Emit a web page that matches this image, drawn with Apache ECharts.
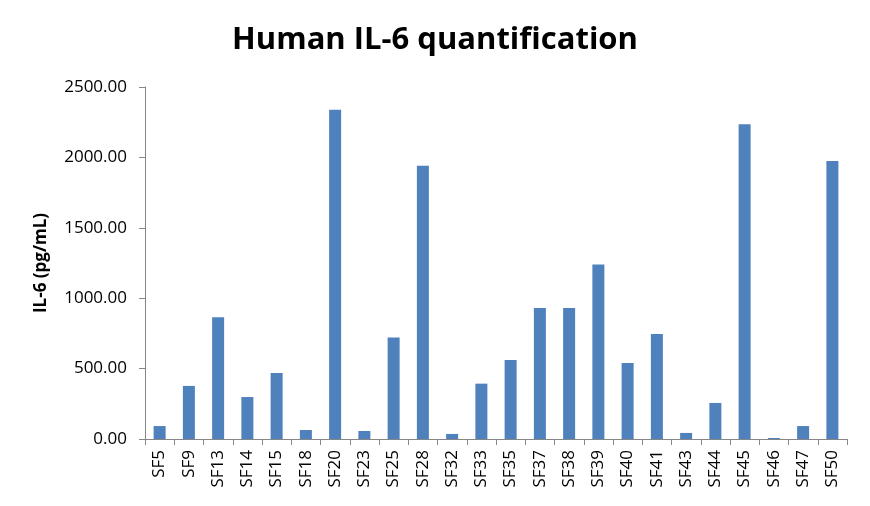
<!DOCTYPE html>
<html><head><meta charset="utf-8">
<script src="https://cdn.jsdelivr.net/npm/echarts@6/dist/echarts.min.js"></script>
<style>html,body{margin:0;padding:0;background:#fff}#c{width:870px;height:506px}</style>
</head><body><div id="c"></div>
<script>
const categories = ["SF5","SF9","SF13","SF14","SF15","SF18","SF20","SF23","SF25","SF28","SF32","SF33","SF35","SF37","SF38","SF39","SF40","SF41","SF43","SF44","SF45","SF46","SF47","SF50"];
const il6Values = [92,377,865,298,469,64,2338,57,720,1940,36,393,561,930,930,1240,540,745,43,256,2235,7,92,1975];
const yTicks = [0,500,1000,1500,2000,2500];
const chart = echarts.init(document.getElementById('c'));
const font = '"Open Sans", "Liberation Sans", sans-serif';
chart.setOption({
  animation:false,
  title:{text:'Human IL-6 quantification',left:'center',top:20,textStyle:{fontFamily:font,fontWeight:'bold',fontSize:31,color:'#000'}},
  grid:{left:145,right:23,top:87,bottom:67,containLabel:false},
  xAxis:{type:'category',data:categories,
    axisLine:{lineStyle:{color:'#868686'}},
    axisTick:{show:true,length:6,lineStyle:{color:'#868686'}},
    axisLabel:{rotate:90,interval:0,fontFamily:font,fontSize:17,color:'#000',margin:11}},
  yAxis:{type:'value',min:yTicks[0],max:yTicks[yTicks.length-1],interval:500,
    name:'IL-6 (pg/mL)',nameLocation:'middle',nameGap:95,nameRotate:90,
    nameTextStyle:{fontFamily:font,fontWeight:'bold',fontSize:17,color:'#000'},
    splitLine:{show:false},
    axisLine:{show:true,lineStyle:{color:'#868686'}},
    axisTick:{show:true,length:6,lineStyle:{color:'#868686'}},
    axisLabel:{fontFamily:font,fontSize:17,color:'#000',margin:18,formatter:v=>v.toFixed(2)}},
  series:[{type:'bar',data:il6Values,barWidth:12,itemStyle:{color:'#4f81bd'}}]
});
</script></body></html>
